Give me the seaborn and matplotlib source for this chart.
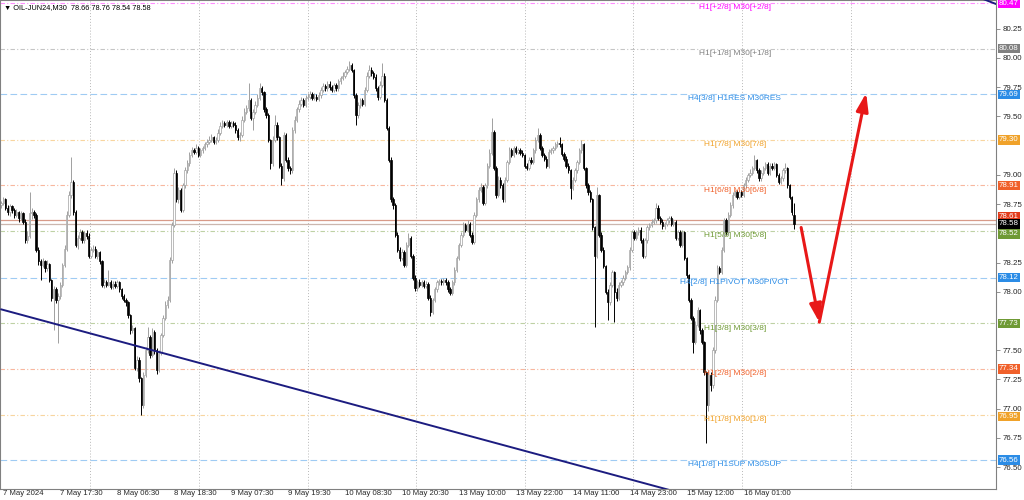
import numpy as np
import matplotlib.pyplot as plt
import seaborn as sns

# OIL-JUN24 M30 bars
opens = [
    78.74, 78.76, 78.79, 78.72, 78.68, 78.73, 78.70, 78.66, 78.68, 78.63, 78.67, 78.60,
    78.44, 78.48, 78.67, 78.68, 78.66, 78.36, 78.26, 78.23, 78.26, 78.20, 78.24, 78.10,
    77.95, 78.02, 77.93, 77.96, 78.06, 78.23, 78.37, 78.66, 78.83, 78.94, 78.68, 78.40,
    78.46, 78.51, 78.44, 78.50, 78.48, 78.31, 78.36, 78.37, 78.31, 78.34, 78.26, 78.06,
    78.08, 78.06, 78.08, 78.04, 78.07, 78.05, 78.08, 78.02, 77.96, 77.93, 77.91, 77.80,
    77.67, 77.69, 77.35, 77.42, 77.26, 77.03, 77.29, 77.50, 77.61, 77.46, 77.66, 77.50,
    77.33, 77.48, 77.63, 77.78, 77.89, 77.93, 78.27, 78.57, 79.02, 78.79, 78.87, 78.70,
    78.91, 79.04, 79.10, 79.17, 79.21, 79.20, 79.23, 79.17, 79.21, 79.23, 79.26, 79.28,
    79.30, 79.32, 79.28, 79.30, 79.36, 79.42, 79.44, 79.43, 79.45, 79.42, 79.44, 79.43,
    79.38, 79.32, 79.34, 79.47, 79.54, 79.57, 79.64, 79.49, 79.54, 79.60, 79.66, 79.74,
    79.71, 79.56, 79.51, 79.30, 79.10, 79.30, 79.43, 79.32, 79.08, 78.97, 79.34, 79.13,
    79.06, 79.04, 79.38, 79.47, 79.56, 79.61, 79.64, 79.60, 79.66, 79.67, 79.69, 79.66,
    79.67, 79.65, 79.68, 79.73, 79.76, 79.74, 79.78, 79.75, 79.73, 79.77, 79.74, 79.80,
    79.83, 79.85, 79.88, 79.91, 79.94, 79.90, 79.68, 79.51, 79.60, 79.64, 79.61, 79.73,
    79.85, 79.90, 79.87, 79.84, 79.74, 79.67, 79.77, 79.85, 79.64, 79.40, 79.13, 78.79,
    78.74, 78.49, 78.36, 78.29, 78.34, 78.23, 78.40, 78.46, 78.31, 78.12, 78.03, 78.08,
    78.06, 78.08, 78.05, 78.07, 77.95, 77.83, 77.93, 78.02, 78.08, 78.09, 78.08, 78.10,
    78.08, 78.02, 77.99, 78.08, 78.19, 78.29, 78.40, 78.49, 78.57, 78.53, 78.58, 78.49,
    78.43, 78.66, 78.79, 78.87, 78.90, 78.76, 78.91, 79.08, 79.19, 79.37, 79.06, 78.83,
    78.96, 78.91, 78.79, 78.96, 79.11, 79.21, 79.17, 79.23, 79.20, 79.21, 79.19, 79.17,
    79.08, 79.06, 79.13, 79.11, 79.21, 79.30, 79.34, 79.23, 79.17, 79.14, 79.08, 79.20,
    79.21, 79.23, 79.26, 79.27, 79.26, 79.18, 79.14, 79.08, 79.04, 78.89, 78.96, 79.04,
    79.11, 79.21, 79.26, 79.06, 78.91, 78.85, 78.79, 78.55, 78.31, 78.83, 78.49, 78.36,
    78.22, 78.00, 77.91, 78.06, 78.17, 78.00, 77.95, 78.06, 78.08, 78.12, 78.17, 78.21,
    78.36, 78.51, 78.46, 78.51, 78.53, 78.44, 78.31, 78.44, 78.55, 78.57, 78.60, 78.61,
    78.72, 78.63, 78.60, 78.56, 78.58, 78.61, 78.63, 78.58, 78.60, 78.46, 78.51, 78.40,
    78.51, 78.29, 78.14, 77.93, 77.78, 77.57, 77.72, 77.84, 77.67, 77.57, 77.31, 77.03,
    77.29, 77.20, 77.50, 77.93, 78.20, 78.17, 78.36, 78.61, 78.51, 78.66, 78.74, 78.83,
    78.85, 78.81, 78.85, 78.83, 78.91, 78.96, 79.00, 79.02, 79.06, 79.13, 79.04, 78.97,
    79.02, 79.06, 79.09, 79.02, 79.08, 79.06, 79.09, 79.00, 78.94, 78.97, 79.04, 79.06,
    78.91, 78.81, 78.66,
]
closes = [
    78.76, 78.79, 78.72, 78.68, 78.73, 78.70, 78.66, 78.68, 78.63, 78.67, 78.60, 78.44,
    78.48, 78.67, 78.68, 78.66, 78.36, 78.26, 78.23, 78.26, 78.20, 78.24, 78.10, 77.95,
    78.02, 77.93, 77.96, 78.06, 78.23, 78.37, 78.66, 78.83, 78.94, 78.68, 78.40, 78.46,
    78.51, 78.44, 78.50, 78.48, 78.31, 78.36, 78.37, 78.31, 78.34, 78.26, 78.06, 78.08,
    78.06, 78.08, 78.04, 78.07, 78.05, 78.08, 78.02, 77.96, 77.93, 77.91, 77.80, 77.67,
    77.69, 77.35, 77.42, 77.26, 77.03, 77.29, 77.50, 77.61, 77.46, 77.66, 77.50, 77.33,
    77.48, 77.63, 77.78, 77.89, 77.93, 78.27, 78.57, 79.02, 78.79, 78.87, 78.70, 78.91,
    79.04, 79.10, 79.17, 79.21, 79.20, 79.23, 79.17, 79.21, 79.23, 79.26, 79.28, 79.30,
    79.32, 79.28, 79.30, 79.36, 79.42, 79.44, 79.43, 79.45, 79.42, 79.44, 79.43, 79.38,
    79.32, 79.34, 79.47, 79.54, 79.57, 79.64, 79.49, 79.54, 79.60, 79.66, 79.74, 79.71,
    79.56, 79.51, 79.30, 79.10, 79.30, 79.43, 79.32, 79.08, 78.97, 79.34, 79.13, 79.06,
    79.04, 79.38, 79.47, 79.56, 79.61, 79.64, 79.60, 79.66, 79.67, 79.69, 79.66, 79.67,
    79.65, 79.68, 79.73, 79.76, 79.74, 79.78, 79.75, 79.73, 79.77, 79.74, 79.80, 79.83,
    79.85, 79.88, 79.91, 79.94, 79.90, 79.68, 79.51, 79.60, 79.64, 79.61, 79.73, 79.85,
    79.90, 79.87, 79.84, 79.74, 79.67, 79.77, 79.85, 79.64, 79.40, 79.13, 78.79, 78.74,
    78.49, 78.36, 78.29, 78.34, 78.23, 78.40, 78.46, 78.31, 78.12, 78.03, 78.08, 78.06,
    78.08, 78.05, 78.07, 77.95, 77.83, 77.93, 78.02, 78.08, 78.09, 78.08, 78.10, 78.08,
    78.02, 77.99, 78.08, 78.19, 78.29, 78.40, 78.49, 78.57, 78.53, 78.58, 78.49, 78.43,
    78.66, 78.79, 78.87, 78.90, 78.76, 78.91, 79.08, 79.19, 79.37, 79.06, 78.83, 78.96,
    78.91, 78.79, 78.96, 79.11, 79.21, 79.17, 79.23, 79.20, 79.21, 79.19, 79.17, 79.08,
    79.06, 79.13, 79.11, 79.21, 79.30, 79.34, 79.23, 79.17, 79.14, 79.08, 79.20, 79.21,
    79.23, 79.26, 79.27, 79.26, 79.18, 79.14, 79.08, 79.04, 78.89, 78.96, 79.04, 79.11,
    79.21, 79.26, 79.06, 78.91, 78.85, 78.79, 78.55, 78.31, 78.83, 78.49, 78.36, 78.22,
    78.00, 77.91, 78.06, 78.17, 78.00, 77.95, 78.06, 78.08, 78.12, 78.17, 78.21, 78.36,
    78.51, 78.46, 78.51, 78.53, 78.44, 78.31, 78.44, 78.55, 78.57, 78.60, 78.61, 78.72,
    78.63, 78.60, 78.56, 78.58, 78.61, 78.63, 78.58, 78.60, 78.46, 78.51, 78.40, 78.51,
    78.29, 78.14, 77.93, 77.78, 77.57, 77.72, 77.84, 77.67, 77.57, 77.31, 77.03, 77.29,
    77.20, 77.50, 77.93, 78.20, 78.17, 78.36, 78.61, 78.51, 78.66, 78.74, 78.83, 78.85,
    78.81, 78.85, 78.83, 78.91, 78.96, 79.00, 79.02, 79.06, 79.13, 79.04, 78.97, 79.02,
    79.06, 79.09, 79.02, 79.08, 79.06, 79.09, 79.00, 78.94, 78.97, 79.04, 79.06, 78.91,
    78.81, 78.68, 78.58,
]
highs = [
    78.78, 78.81, 78.80, 78.74, 78.75, 78.74, 78.72, 78.71, 78.69, 78.69, 78.68, 78.62,
    78.52, 78.85, 78.72, 78.70, 78.67, 78.38, 78.28, 78.29, 78.27, 78.27, 78.25, 78.11,
    78.05, 78.04, 77.99, 78.08, 78.25, 78.40, 78.69, 78.86, 79.15, 78.96, 78.70, 78.49,
    78.54, 78.53, 78.52, 78.53, 78.50, 78.38, 78.40, 78.39, 78.36, 78.35, 78.27, 78.11,
    78.10, 78.19, 78.10, 78.09, 78.09, 78.10, 78.09, 78.03, 77.98, 77.95, 77.92, 77.81,
    77.72, 77.70, 77.45, 77.44, 77.27, 77.31, 77.53, 77.70, 77.63, 77.69, 77.67, 77.52,
    77.50, 77.65, 77.80, 77.92, 77.96, 78.30, 78.60, 79.06, 79.04, 78.90, 78.89, 78.93,
    79.07, 79.13, 79.20, 79.24, 79.23, 79.26, 79.25, 79.23, 79.25, 79.28, 79.31, 79.33,
    79.35, 79.33, 79.32, 79.39, 79.45, 79.47, 79.46, 79.47, 79.47, 79.46, 79.46, 79.45,
    79.40, 79.37, 79.50, 79.57, 79.60, 79.79, 79.66, 79.56, 79.63, 79.69, 79.79, 79.76,
    79.72, 79.58, 79.53, 79.31, 79.33, 79.51, 79.45, 79.33, 79.10, 79.37, 79.36, 79.15,
    79.08, 79.41, 79.50, 79.58, 79.64, 79.67, 79.66, 79.68, 79.70, 79.72, 79.71, 79.70,
    79.69, 79.71, 79.75, 79.79, 79.78, 79.80, 79.80, 79.77, 79.79, 79.79, 79.82, 79.85,
    79.88, 79.90, 79.93, 79.97, 79.96, 79.91, 79.70, 79.62, 79.66, 79.66, 79.75, 79.88,
    79.94, 79.92, 79.89, 79.86, 79.76, 79.80, 79.96, 79.87, 79.66, 79.42, 79.15, 78.81,
    78.76, 78.51, 78.38, 78.37, 78.36, 78.43, 78.50, 78.48, 78.32, 78.14, 78.10, 78.11,
    78.10, 78.10, 78.09, 78.08, 77.97, 77.95, 78.04, 78.10, 78.11, 78.11, 78.12, 78.12,
    78.10, 78.04, 78.10, 78.21, 78.31, 78.42, 78.51, 78.60, 78.59, 78.61, 78.60, 78.51,
    78.68, 78.81, 78.90, 78.93, 78.91, 78.93, 79.10, 79.22, 79.49, 79.38, 79.08, 78.99,
    78.98, 78.93, 78.98, 79.13, 79.24, 79.23, 79.25, 79.25, 79.23, 79.23, 79.21, 79.18,
    79.10, 79.15, 79.15, 79.23, 79.32, 79.40, 79.36, 79.25, 79.19, 79.16, 79.22, 79.23,
    79.25, 79.28, 79.29, 79.32, 79.27, 79.20, 79.16, 79.10, 79.05, 78.98, 79.06, 79.13,
    79.23, 79.30, 79.27, 79.07, 78.93, 78.87, 78.80, 78.56, 78.90, 78.84, 78.51, 78.38,
    78.23, 78.02, 78.08, 78.19, 78.18, 78.03, 78.08, 78.10, 78.14, 78.19, 78.23, 78.38,
    78.53, 78.53, 78.53, 78.55, 78.55, 78.46, 78.46, 78.57, 78.59, 78.62, 78.63, 78.76,
    78.74, 78.65, 78.62, 78.60, 78.63, 78.65, 78.65, 78.62, 78.61, 78.53, 78.53, 78.53,
    78.52, 78.30, 78.15, 77.95, 77.79, 77.75, 77.87, 77.85, 77.69, 77.58, 77.32, 77.33,
    77.31, 77.53, 77.96, 78.23, 78.22, 78.38, 78.63, 78.63, 78.68, 78.77, 78.85, 78.87,
    78.87, 78.87, 78.87, 78.93, 78.98, 79.02, 79.05, 79.08, 79.17, 79.14, 79.06, 79.04,
    79.08, 79.11, 79.11, 79.10, 79.10, 79.11, 79.10, 79.02, 78.99, 79.06, 79.10, 79.07,
    78.92, 78.82, 78.76,
]
lows = [
    78.72, 78.74, 78.70, 78.66, 78.65, 78.67, 78.63, 78.64, 78.60, 78.61, 78.58, 78.42,
    78.42, 78.46, 78.62, 78.63, 78.34, 78.23, 78.10, 78.21, 78.17, 78.18, 78.08, 77.92,
    77.67, 77.90, 77.56, 77.94, 78.04, 78.21, 78.35, 78.64, 78.80, 78.66, 78.38, 78.37,
    78.44, 78.42, 78.42, 78.45, 78.29, 78.29, 78.34, 78.29, 78.28, 78.24, 78.04, 78.03,
    78.04, 78.05, 78.02, 78.02, 78.03, 78.03, 78.00, 77.94, 77.91, 77.88, 77.78, 77.64,
    77.65, 77.33, 77.32, 77.23, 76.95, 77.01, 77.27, 77.48, 77.43, 77.44, 77.47, 77.30,
    77.31, 77.46, 77.61, 77.76, 77.86, 77.91, 78.25, 78.55, 78.77, 78.76, 78.68, 78.68,
    78.89, 79.02, 79.08, 79.15, 79.18, 79.18, 79.15, 79.15, 79.19, 79.21, 79.24, 79.26,
    79.28, 79.26, 79.26, 79.28, 79.34, 79.40, 79.41, 79.41, 79.40, 79.40, 79.41, 79.36,
    79.30, 79.29, 79.32, 79.45, 79.52, 79.55, 79.47, 79.38, 79.52, 79.58, 79.64, 79.68,
    79.54, 79.49, 79.28, 79.05, 79.08, 79.28, 79.30, 79.06, 78.91, 78.95, 79.11, 79.03,
    79.01, 79.02, 79.36, 79.45, 79.54, 79.59, 79.58, 79.58, 79.64, 79.65, 79.64, 79.64,
    79.63, 79.63, 79.66, 79.71, 79.72, 79.72, 79.73, 79.71, 79.71, 79.72, 79.72, 79.78,
    79.81, 79.83, 79.86, 79.89, 79.88, 79.66, 79.43, 79.49, 79.57, 79.59, 79.59, 79.71,
    79.83, 79.85, 79.82, 79.72, 79.64, 79.65, 79.75, 79.62, 79.38, 79.11, 78.77, 78.71,
    78.47, 78.34, 78.26, 78.27, 78.21, 78.21, 78.38, 78.29, 78.10, 78.01, 78.01, 78.04,
    78.04, 78.03, 78.03, 77.93, 77.79, 77.81, 77.91, 78.00, 78.06, 78.06, 78.06, 78.06,
    78.00, 77.97, 77.97, 78.06, 78.17, 78.27, 78.38, 78.47, 78.51, 78.51, 78.47, 78.41,
    78.41, 78.64, 78.77, 78.85, 78.74, 78.74, 78.89, 79.06, 79.17, 79.04, 78.80, 78.81,
    78.89, 78.77, 78.77, 78.94, 79.09, 79.15, 79.15, 79.18, 79.18, 79.17, 79.15, 79.06,
    79.04, 79.04, 79.09, 79.09, 79.19, 79.28, 79.21, 79.15, 79.12, 79.06, 79.06, 79.18,
    79.19, 79.21, 79.24, 79.24, 79.16, 79.12, 79.06, 79.02, 78.79, 78.87, 78.94, 79.02,
    79.09, 79.19, 79.04, 78.89, 78.83, 78.77, 78.53, 77.70, 78.29, 78.47, 78.34, 78.20,
    77.98, 77.76, 77.89, 78.04, 77.74, 77.92, 77.93, 78.04, 78.06, 78.10, 78.15, 78.19,
    78.34, 78.44, 78.44, 78.49, 78.42, 78.29, 78.29, 78.42, 78.53, 78.55, 78.58, 78.59,
    78.61, 78.58, 78.54, 78.54, 78.56, 78.59, 78.56, 78.56, 78.44, 78.44, 78.38, 78.38,
    78.27, 78.12, 77.91, 77.76, 77.48, 77.55, 77.70, 77.64, 77.55, 77.29, 76.71, 76.98,
    77.15, 77.18, 77.48, 77.91, 78.15, 78.15, 78.34, 78.49, 78.49, 78.64, 78.72, 78.81,
    78.79, 78.79, 78.81, 78.81, 78.89, 78.94, 78.98, 79.00, 79.04, 79.02, 78.95, 78.95,
    79.00, 79.04, 79.00, 79.00, 79.04, 79.04, 78.98, 78.92, 78.92, 78.95, 79.02, 78.89,
    78.79, 78.66, 78.54,
]

# Murrey math levels drawn by the indicator
levels = [80.47, 80.08, 79.69, 79.30, 78.91, 78.52, 78.12, 77.73, 77.34, 76.95, 76.56]
level_names = ["H1[+2/8] M30[+2/8]", "H1[+1/8] M30[+1/8]", "H4[3/8] H1RES M30RES",
               "H1[7/8] M30[7/8]", "H1[6/8] M30[6/8]", "H1[5/8] M30[5/8]",
               "H4[2/8] H1PIVOT M30PIVOT", "H1[3/8] M30[3/8]", "H1[2/8] M30[2/8]",
               "H1[1/8] M30[1/8]", "H4[1/8] H1SUP M30SUP"]
level_colors = ["#ff00ff", "#808080", "#2b8ce6", "#f0a22a", "#f0602a", "#6f9a35",
                "#2b8ce6", "#6f9a35", "#f0602a", "#f0a22a", "#2b8ce6"]

time_labels = ["7 May 2024", "7 May 17:30", "8 May 06:30", "8 May 18:30", "9 May 07:30",
               "9 May 19:30", "10 May 08:30", "10 May 20:30", "13 May 10:00", "13 May 22:00",
               "14 May 11:00", "14 May 23:00", "15 May 12:00", "16 May 01:00"]
time_label_bars = [1, 27, 53, 79, 105, 131, 157, 183, 209, 235, 261, 287, 313, 339]
grid_bars = [40.5, 90.3, 140.0, 189.5, 239.0, 288.7, 338.4, 388.0]
# scale values that are not hidden under the coloured level boxes
price_ticks = [76.50, 76.75, 77.00, 77.25, 77.50, 78.00, 78.25,
               78.75, 79.00, 79.50, 79.75, 80.00, 80.25]

# trend lines and the forecast arrows (bar index, price)
trend_low = ([0, 310], [77.85, 76.28])
trend_high = ([440, 460], [80.566, 80.42])
arrow_pts = [(365.3, 78.55), (373.6, 77.74), (395.0, 79.70)]

ask_price = 78.61
bid_price = 78.58

sns.set_theme(style="white")
plt.rcParams["font.family"] = ["Liberation Sans", "DejaVu Sans"]

fig = plt.figure(figsize=(10.24, 5), dpi=100)
ax = fig.add_axes([0.0, 0.022, 0.9727, 0.978])

o = np.array(opens)
c = np.array(closes)
h = np.array(highs)
l = np.array(lows)
x = np.arange(len(c))
up = c >= o

for xb in grid_bars:
    ax.axvline(xb, color="#b8b8b8", lw=0.7, ls=(0, (1, 2)), zorder=0)

for lev, col in zip(levels, level_colors):
    ls = (0, (6, 3)) if col == "#2b8ce6" else (0, (4, 2, 1, 2))
    ax.axhline(lev, color=col, lw=0.8, ls=ls, alpha=0.45, zorder=1)

ax.axhline(ask_price, color="#d89a88", lw=0.9, zorder=1)
ax.axhline(bid_price, color="#cbb6ae", lw=0.9, zorder=1)

# candles
ax.vlines(x[up], l[up], h[up], color="#a0a0a0", lw=0.7, zorder=2)
ax.vlines(x[~up], l[~up], h[~up], color="black", lw=0.7, zorder=3)
bottom = np.minimum(o, c)
height = np.maximum(np.abs(c - o), 0.004)
ax.bar(x[up], height[up], bottom=bottom[up], width=0.62, color="white",
       edgecolor="#a0a0a0", linewidth=0.5, zorder=2)
ax.bar(x[~up], height[~up], bottom=bottom[~up], width=0.62, color="black",
       edgecolor="black", linewidth=0.5, zorder=3)

ax.plot(*trend_low, color="#1c1c80", lw=1.4, zorder=4)
ax.plot(*trend_high, color="#1c1c80", lw=1.4, zorder=4)

for a, b in zip(arrow_pts[:-1], arrow_pts[1:]):
    ax.annotate("", xy=b, xytext=a, zorder=5,
                arrowprops=dict(arrowstyle="-|>,head_length=0.9,head_width=0.3",
                                color="#e81818", lw=2.2, shrinkA=0, shrinkB=0))

# level captions
for lev, name, col in zip(levels, level_names, level_colors):
    ax.text(335, lev - 0.04, name, color=col, fontsize=6.0, ha="center",
            va="center", zorder=6)

ax.set_xlim(-0.5, 454.3)
ax.set_ylim(76.313, 80.496)

ax.yaxis.tick_right()
ax.set_yticks(price_ticks)
ax.set_yticklabels([f"{p:.2f}" for p in price_ticks], fontsize=5.7)
ax.tick_params(axis="y", length=3, width=0.6, color="#808080", pad=2)
ax.set_xticks(time_label_bars)
ax.set_xticklabels(time_labels, fontsize=5.6, ha="left")
ax.tick_params(axis="x", length=0, pad=1.0)
for s in ax.spines.values():
    s.set_color("#808080")
    s.set_linewidth(0.8)

# coloured price boxes on the right scale
box_prices = levels + [ask_price, bid_price]
box_colors = level_colors + ["#e23a1a", "black"]
box_offsets = [0, 0, 0, 0, 0, -0.025, 0, 0, 0, -0.015, 0, 0.03, 0]
for p, col, off in zip(box_prices, box_colors, box_offsets):
    ax.text(1.003, p + off, f"{p:.2f}", transform=ax.get_yaxis_transform(),
            fontsize=5.7, color="white", ha="left", va="center", clip_on=False,
            zorder=10, bbox=dict(boxstyle="square,pad=0.15", fc=col, ec="none"))

ax.text(0.004, 0.992, "▼ OIL-JUN24,M30  78.66 78.76 78.54 78.58",
        transform=ax.transAxes, fontsize=5.3, ha="left", va="top", color="black")

fig.savefig("out.png", dpi=100)
